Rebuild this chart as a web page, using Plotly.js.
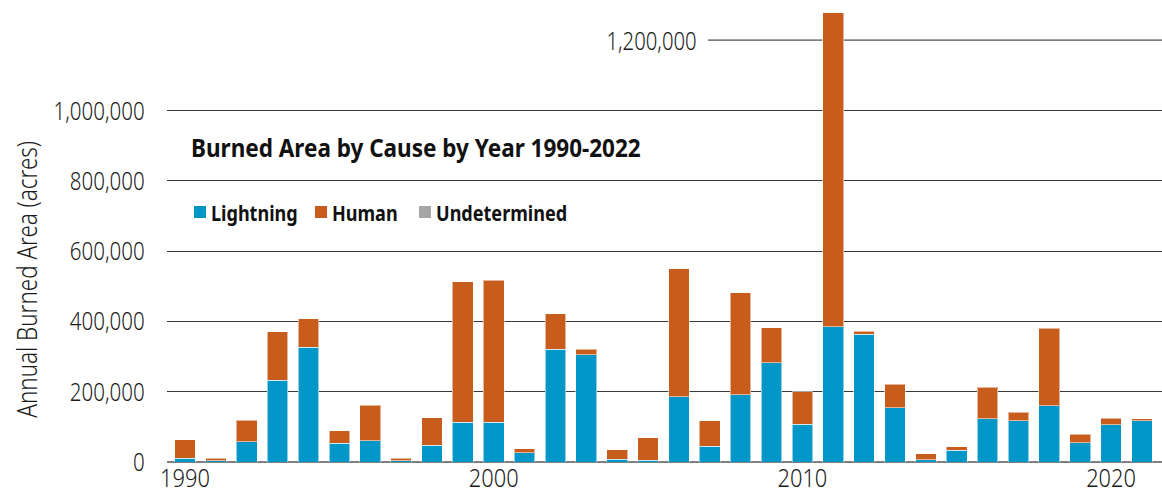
<!DOCTYPE html>
<html>
<head>
<meta charset="utf-8">
<script src="https://cdn.plot.ly/plotly-3.0.1.min.js"></script>
<style>
html,body{margin:0;padding:0;background:#fff;}
#chart{width:1162px;height:495px;}
</style>
</head>
<body>
<div id="chart"></div>
<script>
// Data (acres)
var years = [1990,1991,1992,1993,1994,1995,1996,1997,1998,1999,2000,2001,2002,2003,2004,2005,2006,2007,2008,2009,2010,2011,2012,2013,2014,2015,2016,2017,2018,2019,2020,2021];
var lightning = [10000,4000,57000,233000,326000,53000,60000,4000,48000,113000,113000,27000,321000,305000,8000,5000,185000,45000,191000,282000,108000,384000,364000,154000,6000,33000,123000,118000,160000,55000,106000,117000];
var human = [53000,7000,62000,138000,81000,36000,102000,7000,78000,399000,404000,10000,101000,15000,27000,64000,365000,72000,291000,100000,92000,894000,8000,67000,17000,11000,89000,23000,221000,24000,18000,6000];
var undetermined = [0,0,0,0,0,0,0,0,0,0,0,0,0,0,0,0,0,0,0,0,0,0,0,0,0,0,0,0,0,0,0,0];
var seriesNames = ["Lightning","Human","Undetermined"];
var seriesColors = ["#0097c8","#c85c1c","#a6a6a6"];
var yTickVals = [0,200000,400000,600000,800000,1000000];
var yTickText = ["0","200,000","400,000","600,000","800,000","1,000,000"];
var xTickVals = [1990,2000,2010,2020];
var topGridValue = 1200000;
var topGridLabel = "1,200,000";
var chartTitle = "Burned Area by Cause by Year 1990-2022";
var yTitle = "Annual Burned Area (acres)";

// pixel helpers for the 1162x495 canvas
var L = 167, R = 0, T = 0, B = 33, W = 1162, H = 495;
var pw = W - L - R, ph = H - T - B;
function px(x){ return (x - L) / pw; }
function py(y){ return (H - B - y) / ph; }

var FONT = "Noto Sans, Open Sans, sans-serif";
var lineCol = "rgba(255,255,255,0.55)";

var traces = [
  {type:"bar", x:years, y:lightning, name:seriesNames[0], marker:{color:seriesColors[0], line:{color:lineCol, width:1}}, showlegend:false},
  {type:"bar", x:years, y:human, name:seriesNames[1], marker:{color:seriesColors[1], line:{color:lineCol, width:1}}, showlegend:false},
  {type:"bar", x:years, y:undetermined, name:seriesNames[2], marker:{color:seriesColors[2], line:{width:0}}, showlegend:false}
];

var shapes = [
  {type:"line", xref:"paper", yref:"y", x0:px(708), x1:1, y0:topGridValue, y1:topGridValue, line:{color:"#222", width:1}, layer:"below"}
];
var annotations = [
  {xref:"paper", yref:"y", x:px(699), y:topGridValue, xanchor:"right", yanchor:"middle", text:topGridLabel, showarrow:false, font:{family:FONT, size:26, weight:300, color:"#1a1a1a"}},
  {xref:"paper", yref:"paper", x:px(26), y:py(280), xanchor:"center", yanchor:"middle", text:yTitle, textangle:-90, showarrow:false, font:{family:FONT, size:27, weight:300, color:"#1a1a1a"}}
];
// manual legend (squares + labels)
var legX = [194, 315, 419];
for (var i = 0; i < 3; i++) {
  shapes.push({type:"rect", xref:"paper", yref:"paper", x0:px(legX[i]), x1:px(legX[i]+12), y0:py(218), y1:py(206), fillcolor:seriesColors[i], line:{width:0}});
  annotations.push({xref:"paper", yref:"paper", x:px(legX[i]+15), y:py(212), xanchor:"left", yanchor:"middle", text:seriesNames[i], showarrow:false, font:{family:FONT, size:22, weight:700, color:"#111"}});
}

var layout = {
  width:W, height:H,
  margin:{l:L, r:R, t:T, b:B, pad:0},
  paper_bgcolor:"#fff", plot_bgcolor:"#fff",
  barmode:"stack", bargap:0.33,
  showlegend:false,
  title:{text:chartTitle, xref:"paper", yref:"paper", x:px(191), y:py(148.5), xanchor:"left", yanchor:"middle", font:{family:FONT, size:25, weight:700, color:"#111"}},
  xaxis:{range:[1989.417, 2021.65], tickvals:xTickVals, ticks:"", ticklabelstandoff:0, showgrid:false, zeroline:false, showline:false, tickfont:{family:FONT, size:26, weight:300, color:"#1a1a1a"}, fixedrange:true},
  yaxis:{range:[0, 1314000], tickvals:yTickVals, ticktext:yTickText, ticks:"outside", ticklen:16, tickcolor:"rgba(0,0,0,0)", showgrid:true, gridcolor:"#3a3a3a", gridwidth:1, zeroline:true, zerolinecolor:"#808080", zerolinewidth:2, showline:false, tickfont:{family:FONT, size:26, weight:300, color:"#1a1a1a"}, fixedrange:true},
  shapes:shapes,
  annotations:annotations
};

// horizontally condense a text element (SVG textLength), keeping an anchor point fixed
function condense(el, f, anchor){
  if (!el || !el.getComputedTextLength) return;
  var w = el.getComputedTextLength();
  if (!w) return;
  var b0 = el.getBBox();
  el.setAttribute("lengthAdjust", "spacingAndGlyphs");
  el.setAttribute("textLength", (w * f).toFixed(2));
  var b1 = el.getBBox();
  var dx;
  if (anchor === "left") dx = b0.x - b1.x;
  else if (anchor === "right") dx = (b0.x + b0.width) - (b1.x + b1.width);
  else dx = (b0.x + b0.width / 2) - (b1.x + b1.width / 2);
  if (Math.abs(dx) > 0.01) {
    var x = parseFloat(el.getAttribute("x") || "0");
    el.setAttribute("x", (x + dx).toFixed(2));
  }
}

Plotly.newPlot("chart", traces, layout, {staticPlot:true, displayModeBar:false}).then(function(gd){
  var root = gd.querySelector(".main-svg").parentNode;
  var top = gd.getBoundingClientRect().top;
  root.querySelectorAll(".ytick text").forEach(function(t){ condense(t, 0.79, "right"); });
  root.querySelectorAll(".xtick text").forEach(function(t){
    condense(t, 0.84, "middle");
    // keep the label box inside the canvas bottom edge
    var r = t.getBoundingClientRect();
    var over = (r.bottom - top) - (H - 0.3);
    if (over > 0) {
      var y = parseFloat(t.getAttribute("y") || "0");
      t.setAttribute("y", (y - over).toFixed(2));
    }
  });
  root.querySelectorAll(".gtitle").forEach(function(t){ condense(t, 0.9, "left"); });
  var ann = root.querySelectorAll(".annotation");
  ann.forEach(function(g){
    var idx = +g.getAttribute("data-index");
    var t = g.querySelector("text");
    if (idx === 0) condense(t, 0.78, "right");
    else if (idx === 1) condense(t, 0.83, "middle");
    else condense(t, 0.82, "left");
  });
});
</script>
</body>
</html>
